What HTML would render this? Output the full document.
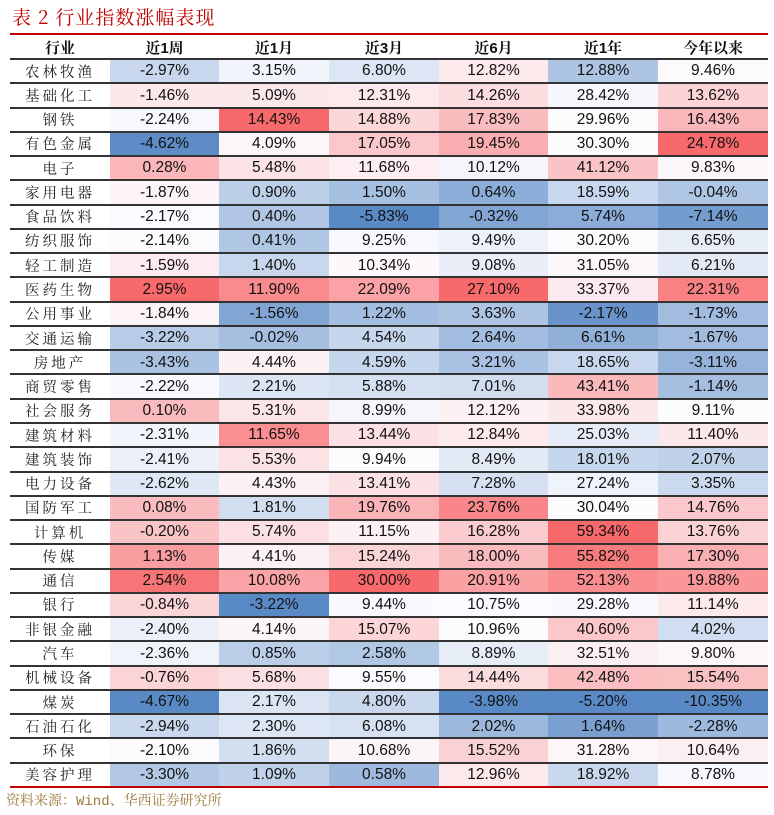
<!DOCTYPE html>
<html><head><meta charset="utf-8"><style>
body{margin:0;width:774px;height:815px;background:#fff;position:relative;overflow:hidden;font-family:"Liberation Sans",sans-serif}
.t{position:absolute;left:12px;top:3px;font:19px "Noto Serif CJK SC","Liberation Serif",serif;color:#c00000;letter-spacing:1px}
.c{position:absolute;display:flex;align-items:center;justify-content:center;font-size:15.5px;color:#111;box-sizing:border-box}
.lab{font-family:"Liberation Serif","Noto Serif CJK SC",serif;letter-spacing:3px;font-size:14.5px;color:#222}
.hd{font-family:"Liberation Sans","Noto Serif CJK SC",serif;font-weight:bold;font-size:15px}
.ln{position:absolute;left:10px;width:758px}
.src{position:absolute;left:6px;top:790px;font:14px "Liberation Mono","Noto Serif CJK SC",serif;color:#9c7a3c}
</style></head><body>
<div class="t">表 2 行业指数涨幅表现</div>
<div id="tbl"></div>
<div class="src">资料来源：Wind、华西证券研究所</div>
<script>
const headers=["行业","近1周","近1月","近3月","近6月","近1年","今年以来"];
const industries=["农林牧渔","基础化工","钢铁","有色金属","电子","家用电器","食品饮料","纺织服饰","轻工制造","医药生物","公用事业","交通运输","房地产","商贸零售","社会服务","建筑材料","建筑装饰","电力设备","国防军工","计算机","传媒","通信","银行","非银金融","汽车","机械设备","煤炭","石油石化","环保","美容护理"];
const week=[-2.97,-1.46,-2.24,-4.62,0.28,-1.87,-2.17,-2.14,-1.59,2.95,-1.84,-3.22,-3.43,-2.22,0.10,-2.31,-2.41,-2.62,0.08,-0.20,1.13,2.54,-0.84,-2.40,-2.36,-0.76,-4.67,-2.94,-2.10,-3.30];
const month=[3.15,5.09,14.43,4.09,5.48,0.90,0.40,0.41,1.40,11.90,-1.56,-0.02,4.44,2.21,5.31,11.65,5.53,4.43,1.81,5.74,4.41,10.08,-3.22,4.14,0.85,5.68,2.17,2.30,1.86,1.09];
const month3=[6.80,12.31,14.88,17.05,11.68,1.50,-5.83,9.25,10.34,22.09,1.22,4.54,4.59,5.88,8.99,13.44,9.94,13.41,19.76,11.15,15.24,30.00,9.44,15.07,2.58,9.55,4.80,6.08,10.68,0.58];
const month6=[12.82,14.26,17.83,19.45,10.12,0.64,-0.32,9.49,9.08,27.10,3.63,2.64,3.21,7.01,12.12,12.84,8.49,7.28,23.76,16.28,18.00,20.91,10.75,10.96,8.89,14.44,-3.98,2.02,15.52,12.96];
const year1=[12.88,28.42,29.96,30.30,41.12,18.59,5.74,30.20,31.05,33.37,-2.17,6.61,18.65,43.41,33.98,25.03,18.01,27.24,30.04,59.34,55.82,52.13,29.28,40.60,32.51,42.48,-5.20,1.64,31.28,18.92];
const ytd=[9.46,13.62,16.43,24.78,9.83,-0.04,-7.14,6.65,6.21,22.31,-1.73,-1.67,-3.11,-1.14,9.11,11.40,2.07,3.35,14.76,13.76,17.30,19.88,11.14,4.02,9.80,15.54,-10.35,-2.28,10.64,8.78];
const series=[week,month,month3,month6,year1,ytd];
const colX=[10,110,219,329,439,548,658,768];
const top0=35,hH=24,rH=(787-59)/30;
const root=document.getElementById('tbl');
function mix(a,b,t){return 'rgb('+a.map((v,i)=>Math.round(v+(b[i]-v)*t)).join(',')+')';}
const BL=[90,138,198],WH=[252,252,255],RD=[248,105,107];
function colorFor(v,arr){const s=[...arr].sort((a,b)=>a-b);const mn=s[0],mx=s[s.length-1];
 const n=s.length;const med=n%2?s[(n-1)/2]:(s[n/2-1]+s[n/2])/2;
 if(v<=med)return mix(BL,WH,med===mn?1:(v-mn)/(med-mn));return mix(WH,RD,(v-med)/(mx-med));}
function cell(x,y,w,h,txt,cls,bg){const d=document.createElement('div');d.className='c '+(cls||'');
 d.style.left=x+'px';d.style.top=y+'px';d.style.width=w+'px';d.style.height=h+'px';if(bg)d.style.background=bg;d.textContent=txt;root.appendChild(d);return d;}
headers.forEach((h,i)=>{const d=cell(colX[i],top0,colX[i+1]-colX[i],hH,h,'hd');
 
 });
industries.forEach((ind,r)=>{const y=59+r*rH;
 const l=cell(colX[0],y,colX[1]-colX[0],rH,ind,'lab');
 
 
 series.forEach((arr,c)=>{const v=arr[r];const d=cell(colX[c+1],y+0.5,colX[c+2]-colX[c+1],rH-0.5,v.toFixed(2)+'%','',colorFor(v,arr));
  
  });
});
function line(y,h,col){const d=document.createElement('div');d.className='ln';d.style.top=y+'px';d.style.height=h+'px';d.style.background=col;root.appendChild(d);
 
 }
line(33,2,'#c00000');
for(let r=0;r<30;r++)line(Math.round(58+r*rH),1.5,'#333');
line(786,2,'#c00000');
</script>
</body></html>
